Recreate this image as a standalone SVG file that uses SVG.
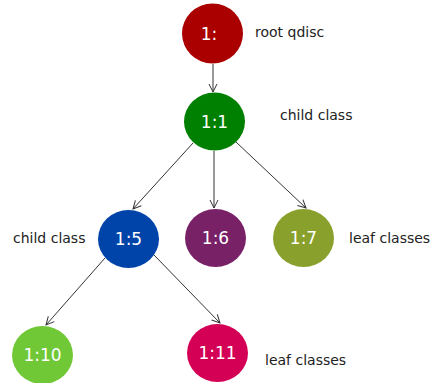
<svg xmlns="http://www.w3.org/2000/svg" width="431" height="383" viewBox="0 0 431 383">
<style>
.n{font-family:"DejaVu Sans",sans-serif;font-size:17px;fill:#fff;text-anchor:middle}
.l{font-family:"DejaVu Sans",sans-serif;font-size:14px;fill:#222}
.e{stroke:#333;stroke-width:1;fill:none;marker-end:url(#a)}
</style>
<defs>
<marker id="a" viewBox="0 0 10 10" refX="9" refY="5" markerWidth="10" markerHeight="10" markerUnits="userSpaceOnUse" orient="auto">
<path d="M1,1 L9,5 L1,9" fill="none" stroke="#333" stroke-width="1"/>
</marker>
</defs>
<g id="connectors">
<line class="e" x1="213" y1="64" x2="213" y2="92"/>
<line class="e" x1="193" y1="143" x2="133" y2="209"/>
<line class="e" x1="214" y1="151" x2="214" y2="208"/>
<line class="e" x1="236" y1="142" x2="306" y2="208"/>
<line class="e" x1="105" y1="258" x2="46" y2="325"/>
<line class="e" x1="154" y1="255" x2="220" y2="323"/>
</g>
<g id="n1"><ellipse cx="212.5" cy="33.5" rx="30.5" ry="30" fill="#aa0000"/><text class="n" x="209" y="39.5">1:</text></g>
<g id="n1_1"><ellipse cx="214.5" cy="121.5" rx="30.5" ry="29" fill="#008000"/><text class="n" x="214.5" y="127.5">1:1</text></g>
<g id="n1_5"><ellipse cx="128.5" cy="239" rx="30.5" ry="29" fill="#0044aa"/><text class="n" x="128.5" y="245">1:5</text></g>
<g id="n1_6"><ellipse cx="215.5" cy="238" rx="30.5" ry="29" fill="#782167"/><text class="n" x="215.5" y="244">1:6</text></g>
<g id="n1_7"><ellipse cx="303.5" cy="238" rx="30.5" ry="29" fill="#89a02c"/><text class="n" x="303.5" y="244">1:7</text></g>
<g id="n1_10"><ellipse cx="42.5" cy="355" rx="30.5" ry="29" fill="#71c837"/><text class="n" x="42.5" y="361">1:10</text></g>
<g id="n1_11"><ellipse cx="217.5" cy="353" rx="30.5" ry="29" fill="#d40055"/><text class="n" x="217.5" y="359">1:11</text></g>
<g id="labels">
<text class="l" x="255" y="37">root qdisc</text>
<text class="l" x="280" y="120">child class</text>
<text class="l" x="13" y="243">child class</text>
<text class="l" x="349" y="243">leaf classes</text>
<text class="l" x="265" y="365">leaf classes</text>
</g>
</svg>
